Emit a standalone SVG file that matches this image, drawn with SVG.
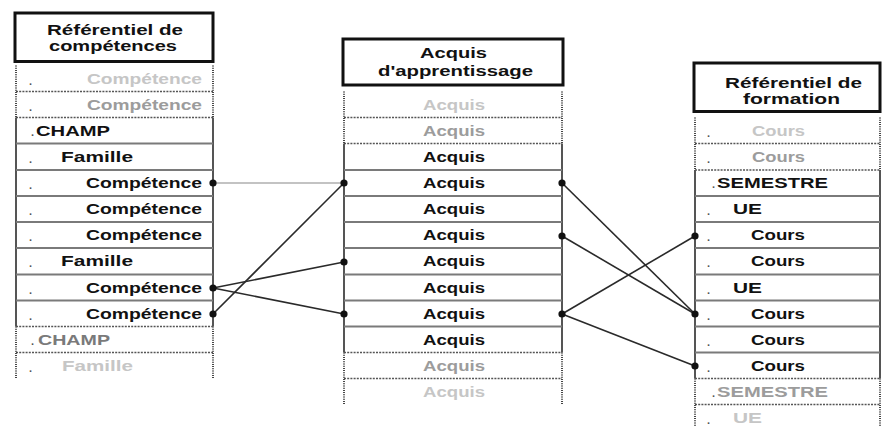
<svg xmlns="http://www.w3.org/2000/svg" width="887" height="427" viewBox="0 0 887 427">
  <style>
    .t { font-family: "Liberation Sans", Arial, sans-serif; font-weight: bold; font-size: 15px; }
    .k { fill: #111; }
    .g1 { fill: #c6c6c6; }
    .g2 { fill: #9c9c9c; }
    .g3 { fill: #7a7a7a; }
    .bul { font-family: "Liberation Sans", Arial, sans-serif; font-weight: bold; font-size: 11px; fill: #555; }
    .hdr { fill: #fff; stroke: #111; stroke-width: 3; }
    .side { stroke: #555; stroke-width: 2; fill: none; }
    .dside { stroke: #444; stroke-width: 2; stroke-dasharray: 1 1.2; fill: none; }
    .sep { stroke: #7a7a7a; stroke-width: 1.8; }
    .dsep { stroke: #555; stroke-width: 1.5; stroke-dasharray: 2 1.2; }
    .link { stroke: #2a2a2a; stroke-width: 1.6; fill: none; }
    .thin { stroke: #888; stroke-width: 1.2; fill: none; }
    .pt { fill: #111; }
  </style>

  <rect width="887" height="427" fill="#fff"/>

  <!-- Column 1: skills framework -->
  <g id="referentiel-competences">
    <rect class="hdr" x="15" y="13" width="198" height="48.5"/>
    <text class="t k" x="47" y="35" textLength="136" lengthAdjust="spacingAndGlyphs">Référentiel de</text>
    <text class="t k" x="49" y="51" textLength="128" lengthAdjust="spacingAndGlyphs">compétences</text>

    <!-- side rules -->
    <path class="dside" d="M16 65.5V117.5M213 65.5V117.5M16 326.5V378.5M213 326.5V378.5"/>
    <path class="side" d="M16 117.5V326.5M213 117.5V326.5"/>
    <!-- row separators -->
    <path class="dsep" d="M16 91.5H213M16 117.5H213M16 326.5H213M16 352.5H213"/>
    <path class="sep" d="M16 143.5H213M16 170H213M16 196H213M16 222H213M16 248H213M16 274.5H213M16 300.5H213"/>

    <g class="bul">
      <text x="29" y="85">.</text><text x="29" y="111">.</text><text x="31" y="136">.</text>
      <text x="29" y="163">.</text><text x="29" y="189">.</text><text x="29" y="215">.</text>
      <text x="29" y="241">.</text><text x="29" y="267">.</text><text x="29" y="294">.</text>
      <text x="29" y="320">.</text><text x="31" y="345">.</text><text x="29" y="372">.</text>
    </g>
    <text class="t g1" x="87" y="84" textLength="115" lengthAdjust="spacingAndGlyphs">Compétence</text>
    <text class="t g2" x="87" y="110" textLength="115" lengthAdjust="spacingAndGlyphs">Compétence</text>
    <text class="t k" x="36" y="136" textLength="74" lengthAdjust="spacingAndGlyphs">CHAMP</text>
    <text class="t k" x="61" y="162" textLength="72" lengthAdjust="spacingAndGlyphs">Famille</text>
    <text class="t k" x="86" y="188" textLength="116" lengthAdjust="spacingAndGlyphs">Compétence</text>
    <text class="t k" x="86" y="214" textLength="116" lengthAdjust="spacingAndGlyphs">Compétence</text>
    <text class="t k" x="86" y="240" textLength="116" lengthAdjust="spacingAndGlyphs">Compétence</text>
    <text class="t k" x="61" y="266" textLength="72" lengthAdjust="spacingAndGlyphs">Famille</text>
    <text class="t k" x="86" y="293" textLength="116" lengthAdjust="spacingAndGlyphs">Compétence</text>
    <text class="t k" x="86" y="319" textLength="116" lengthAdjust="spacingAndGlyphs">Compétence</text>
    <text class="t g3" x="38" y="345" textLength="72" lengthAdjust="spacingAndGlyphs">CHAMP</text>
    <text class="t g1" x="62" y="371" textLength="71" lengthAdjust="spacingAndGlyphs">Famille</text>
  </g>

  <!-- Column 2: learning outcomes -->
  <g id="acquis-apprentissage">
    <rect class="hdr" x="343" y="39" width="220" height="46"/>
    <text class="t k" x="420" y="58" textLength="67" lengthAdjust="spacingAndGlyphs">Acquis</text>
    <text class="t k" x="378" y="76" textLength="155" lengthAdjust="spacingAndGlyphs">d'apprentissage</text>

    <path class="dside" d="M344 91.5V143.5M562 91.5V143.5M344 352.5V404.5M562 352.5V404.5"/>
    <path class="side" d="M344 143.5V352.5M562 143.5V352.5"/>
    <path class="dsep" d="M344 117.5H562M344 143.5H562M344 352.5H562M344 378.5H562"/>
    <path class="sep" d="M344 170H562M344 196H562M344 222H562M344 248H562M344 274.5H562M344 300.5H562M344 326.5H562"/>

    <g class="t">
      <text class="g1" x="423" y="110" textLength="62" lengthAdjust="spacingAndGlyphs">Acquis</text>
      <text class="g2" x="423" y="136" textLength="62" lengthAdjust="spacingAndGlyphs">Acquis</text>
      <text class="k" x="423" y="162" textLength="62" lengthAdjust="spacingAndGlyphs">Acquis</text>
      <text class="k" x="423" y="188" textLength="62" lengthAdjust="spacingAndGlyphs">Acquis</text>
      <text class="k" x="423" y="214" textLength="62" lengthAdjust="spacingAndGlyphs">Acquis</text>
      <text class="k" x="423" y="240" textLength="62" lengthAdjust="spacingAndGlyphs">Acquis</text>
      <text class="k" x="423" y="266" textLength="62" lengthAdjust="spacingAndGlyphs">Acquis</text>
      <text class="k" x="423" y="293" textLength="62" lengthAdjust="spacingAndGlyphs">Acquis</text>
      <text class="k" x="423" y="319" textLength="62" lengthAdjust="spacingAndGlyphs">Acquis</text>
      <text class="k" x="423" y="345" textLength="62" lengthAdjust="spacingAndGlyphs">Acquis</text>
      <text class="g2" x="423" y="371" textLength="62" lengthAdjust="spacingAndGlyphs">Acquis</text>
      <text class="g1" x="423" y="397" textLength="62" lengthAdjust="spacingAndGlyphs">Acquis</text>
    </g>
  </g>

  <!-- Column 3: training framework -->
  <g id="referentiel-formation">
    <rect class="hdr" x="694" y="63" width="186" height="48.5"/>
    <text class="t k" x="725" y="88" textLength="137" lengthAdjust="spacingAndGlyphs">Référentiel de</text>
    <text class="t k" x="743" y="104" textLength="97" lengthAdjust="spacingAndGlyphs">formation</text>

    <path class="dside" d="M695 117.5V170M880 117.5V170M695 378.5V427M880 378.5V427"/>
    <path class="side" d="M695 170V378.5M880 170V378.5"/>
    <path class="dsep" d="M695 143.5H880M695 170H880M695 378.5H880M695 404.5H880"/>
    <path class="sep" d="M695 196H880M695 222H880M695 248H880M695 274.5H880M695 300.5H880M695 326.5H880M695 352.5H880"/>

    <g class="bul">
      <text x="707" y="137">.</text><text x="707" y="163">.</text><text x="712" y="188">.</text>
      <text x="707" y="215">.</text><text x="707" y="241">.</text><text x="707" y="267">.</text>
      <text x="707" y="294">.</text><text x="707" y="320">.</text><text x="707" y="346">.</text>
      <text x="707" y="372">.</text><text x="712" y="397">.</text><text x="707" y="424">.</text>
    </g>
    <text class="t g1" x="752" y="136" textLength="53" lengthAdjust="spacingAndGlyphs">Cours</text>
    <text class="t g2" x="752" y="162" textLength="53" lengthAdjust="spacingAndGlyphs">Cours</text>
    <text class="t k" x="717" y="188" textLength="111" lengthAdjust="spacingAndGlyphs">SEMESTRE</text>
    <text class="t k" x="733" y="214" textLength="29" lengthAdjust="spacingAndGlyphs">UE</text>
    <text class="t k" x="751" y="240" textLength="54" lengthAdjust="spacingAndGlyphs">Cours</text>
    <text class="t k" x="751" y="266" textLength="54" lengthAdjust="spacingAndGlyphs">Cours</text>
    <text class="t k" x="733" y="293" textLength="29" lengthAdjust="spacingAndGlyphs">UE</text>
    <text class="t k" x="751" y="319" textLength="54" lengthAdjust="spacingAndGlyphs">Cours</text>
    <text class="t k" x="751" y="345" textLength="54" lengthAdjust="spacingAndGlyphs">Cours</text>
    <text class="t k" x="751" y="371" textLength="54" lengthAdjust="spacingAndGlyphs">Cours</text>
    <text class="t g2" x="717" y="397" textLength="111" lengthAdjust="spacingAndGlyphs">SEMESTRE</text>
    <text class="t g1" x="733" y="423" textLength="29" lengthAdjust="spacingAndGlyphs">UE</text>
  </g>

  <!-- Links between columns -->
  <g id="connectors">
    <line class="thin" x1="213" y1="183" x2="344" y2="183"/>
    <line class="link" x1="213" y1="314" x2="344" y2="183"/>
    <line class="link" x1="213" y1="288" x2="344" y2="262"/>
    <line class="link" x1="213" y1="288" x2="344" y2="314"/>

    <line class="link" x1="562" y1="183" x2="695" y2="314"/>
    <line class="link" x1="562" y1="236" x2="695" y2="314"/>
    <line class="link" x1="562" y1="314" x2="695" y2="236"/>
    <line class="link" x1="562" y1="314" x2="695" y2="366"/>

    <g class="pt">
      <circle cx="213" cy="183" r="3.6"/>
      <circle cx="213" cy="288" r="3.6"/>
      <circle cx="213" cy="314" r="3.6"/>
      <circle cx="344" cy="183" r="3.6"/>
      <circle cx="344" cy="262" r="3.6"/>
      <circle cx="344" cy="314" r="3.6"/>
      <circle cx="562" cy="183" r="3.6"/>
      <circle cx="562" cy="236" r="3.6"/>
      <circle cx="562" cy="314" r="3.6"/>
      <circle cx="695" cy="236" r="3.6"/>
      <circle cx="695" cy="314" r="3.6"/>
      <circle cx="695" cy="366" r="3.6"/>
    </g>
  </g>
</svg>
